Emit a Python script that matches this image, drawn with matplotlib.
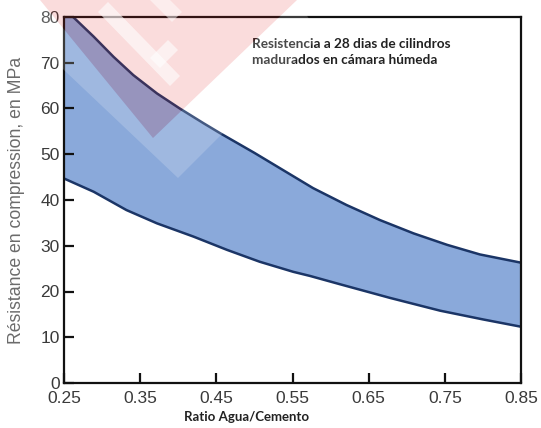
import matplotlib
matplotlib.use("Agg")
import matplotlib.pyplot as plt
import numpy as np
from matplotlib.patches import Polygon

# 28-day compressive strength (MPa) against water/cement ratio, upper and lower limits
upper_x = [0.25, 0.262, 0.289, 0.315, 0.341, 0.372, 0.402, 0.433, 0.455, 0.50,
           0.534, 0.577, 0.621, 0.665, 0.709, 0.753, 0.796, 0.85]
upper_y = [80.0, 80.0, 75.7, 71.3, 67.3, 63.3, 60.0, 56.8, 54.6, 50.3,
           46.9, 42.6, 38.9, 35.6, 32.7, 30.2, 28.1, 26.3]
lower_x = [0.25, 0.289, 0.332, 0.372, 0.420, 0.464, 0.507, 0.551, 0.573, 0.612,
           0.678, 0.744, 0.80, 0.85]
lower_y = [44.7, 41.8, 37.8, 34.9, 32.0, 29.1, 26.5, 24.3, 23.4, 21.6,
           18.6, 15.8, 13.9, 12.3]

xticks = [0.25, 0.35, 0.45, 0.55, 0.65, 0.75, 0.85]
yticks = [0, 10, 20, 30, 40, 50, 60, 70, 80]

W, H = 541, 428
fig = plt.figure(figsize=(W / 100, H / 100), dpi=100)
ax = fig.add_axes([64 / W, 1 - 383 / H, 457 / W, 366 / H])

fill_col = "#8aa9da"
line_col = "#1b3566"

band_x = np.r_[upper_x, lower_x[::-1]]
band_y = np.r_[upper_y, lower_y[::-1]]
ax.fill(band_x, band_y, color=fill_col, lw=0, zorder=1)
ax.plot(upper_x[1:], upper_y[1:], color=line_col, lw=1.8, zorder=2,
        solid_joinstyle="round")
ax.plot(lower_x, lower_y, color=line_col, lw=1.8, zorder=2, solid_joinstyle="round")

ax.set_xlim(0.25, 0.85)
ax.set_ylim(0, 80)
ax.set_xticks(xticks)
ax.set_yticks(yticks)
ax.set_xticklabels(["%.2f" % t for t in xticks])
ax.tick_params(direction="in", length=7, width=1.6, color="#111111",
               labelsize=12.5, labelcolor="#3a3a3a", labelfontfamily="Liberation Sans")
ax.tick_params(axis="x", pad=6)
ax.tick_params(axis="y", pad=3)
for s in ax.spines.values():
    s.set_linewidth(1.6)
    s.set_color("#111111")

fig.text(17 / W, 1 - 200 / H, "Résistance en compression, en MPa", rotation=90,
         ha="center", va="center", fontsize=12.7, color="#6b6b6b",
         family="Liberation Sans")
fig.text(247 / W, 1 - 417 / H, "Ratio Agua/Cemento", ha="center", va="center",
         fontsize=9.5, fontweight="bold", color="#222222", family="Lato")
fig.text(252 / W, 1 - 52 / H, "Resistencia a 28 dias de cilindros\nmadurados en cámara húmeda",
         ha="left", va="center", fontsize=9.8, fontweight="bold", color="#222222",
         family="Lato", linespacing=1.5)


def px(pts):
    return [(x / W, 1 - y / H) for x, y in pts]


def stamp(pts, color, alpha):
    fig.add_artist(Polygon(px(pts), closed=True, transform=fig.transFigure,
                           facecolor=color, edgecolor="none", alpha=alpha, zorder=5))


# faint logo stamp in the upper left corner
stamp([(-10, 0), (178, 178), (320, 36), (297, 0), (153, 138), (40, 0)], "white", 0.18)
stamp([(40, 0), (153, 138), (297, 0)], "#e02828", 0.16)
stamp([(98, 12), (170, 86), (180, 76), (108, 2)], "white", 0.6)
stamp([(150, 58), (168, 40), (178, 50), (160, 68)], "white", 0.6)
stamp([(150, 0), (172, 22), (182, 12), (170, 0)], "white", 0.5)

fig.savefig("out.png", dpi=100)
